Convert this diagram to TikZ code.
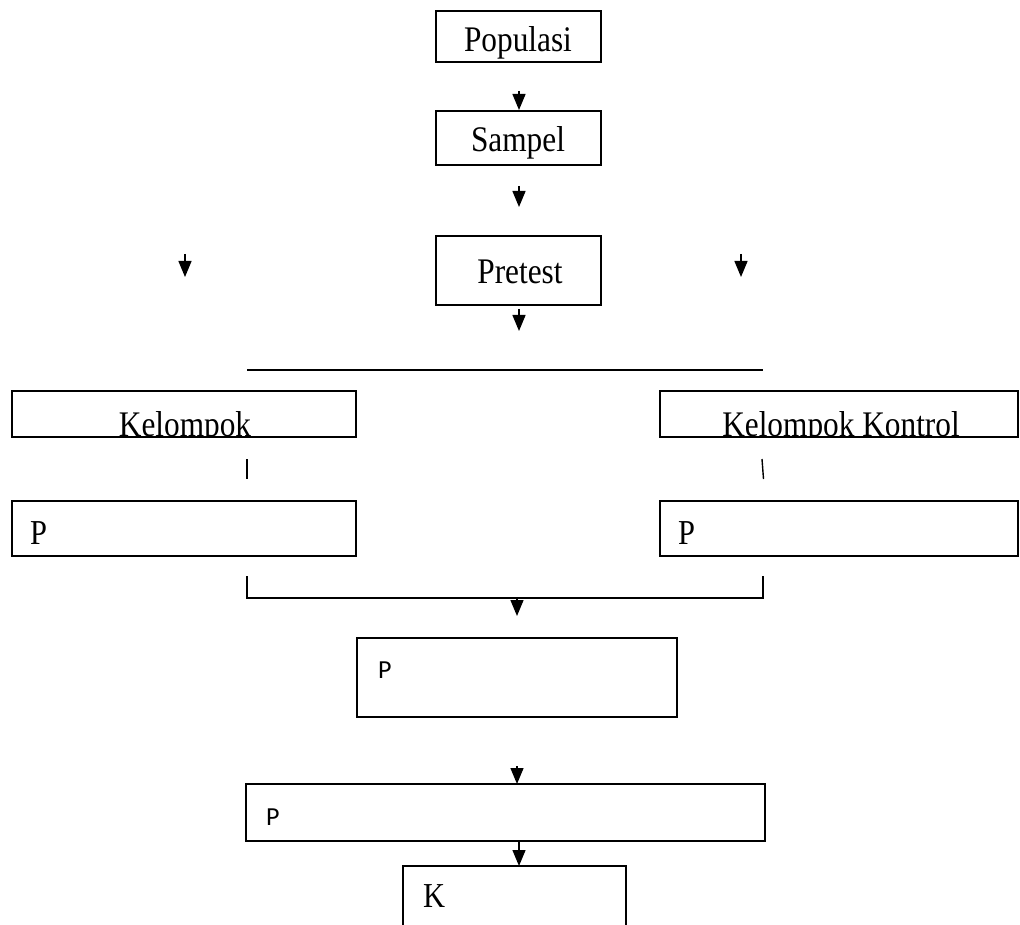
\documentclass[tikz,border=0pt]{standalone}
\usepackage{fontspec}
\setmainfont{Liberation Serif}[FakeStretch=0.87]
\newfontfamily\sansP{Carlito}
\usetikzlibrary{arrows.meta}
\tikzset{
  box/.style={draw, line width=1.4pt},
  arr/.style={line width=1.4pt, -{Triangle[width=13pt,length=16pt]}},
  ln/.style={line width=2pt},
  big/.style={font=\fontsize{36}{40}\selectfont, inner sep=0pt, anchor=base},
  ptxt/.style={font=\fontsize{35}{38}\selectfont, inner sep=0pt, anchor=base west},
  stxt/.style={font=\sansP\fontsize{26}{30}\selectfont, inner sep=0pt, anchor=base west},
}
\begin{document}
\begin{tikzpicture}[x=1pt,y=-1pt]
\useasboundingbox (0,0) rectangle (1020,925);
\clip (0,0) rectangle (1020,925);
% top boxes
\draw[box] (436,11) rectangle (601,62);
\node[big] (pop) at (518,52) {Populasi};
\draw[box] (436,111) rectangle (601,165);
\node[big] (sam) at (518,152) {Sampel};
\draw[box] (436,236) rectangle (601,305);
\node[big] (pre) at (520,284) {Pretest};
% arrows
\coordinate (a1s) at (519,91); \coordinate (a1e) at (519,110);
\draw[arr] (a1s) -- (a1e);
\coordinate (a2s) at (519,186); \coordinate (a2e) at (519,207);
\draw[arr] (a2s) -- (a2e);
\coordinate (a3s) at (185,254); \coordinate (a3e) at (185,277);
\draw[arr] (a3s) -- (a3e);
\coordinate (a4s) at (741,254); \coordinate (a4e) at (741,277);
\draw[arr] (a4s) -- (a4e);
\coordinate (a5s) at (519,309); \coordinate (a5e) at (519,331);
\draw[arr] (a5s) -- (a5e);
% horizontal line
\coordinate (h1) at (247,370); \coordinate (h2) at (763,370);
\draw[ln] (h1) -- (h2);
% group boxes
\begin{scope}
\clip (12,391) rectangle (356,437);
\node[big] (kel) at (185,436) {Kelompok};
\end{scope}
\draw[box] (12,391) rectangle (356,437);
\begin{scope}
\clip (660,391) rectangle (1018,437);
\node[big] (kk) at (841,436) {Kelompok Kontrol};
\end{scope}
\draw[box] (660,391) rectangle (1018,437);
% ticks
\coordinate (t1a) at (247,459); \coordinate (t1b) at (247,479);
\draw[line width=1.4pt] (t1a) -- (t1b);
\coordinate (t2a) at (762,459); \coordinate (t2b) at (763.5,479);
\draw[line width=1.4pt] (t2a) -- (t2b);
% P boxes
\draw[box] (12,501) rectangle (356,556);
\node[ptxt] (pl) at (30,544) {P};
\draw[box] (660,501) rectangle (1018,556);
\node[ptxt] (pr) at (678,544) {P};
% bracket
\coordinate (b1) at (247,576); \coordinate (b2) at (763,576);
\draw[line width=1.6pt] (b1) |- (517,598) -| (b2);
\coordinate (a6s) at (517,598); \coordinate (a6e) at (517,616);
\draw[arr] (a6s) -- (a6e);
% middle P box
\draw[box] (357,638) rectangle (677,717);
\node[stxt] (pm) at (378,678) {P};
\coordinate (a7s) at (517,766); \coordinate (a7e) at (517,784);
\draw[arr] (a7s) -- (a7e);
\draw[box] (246,784) rectangle (765,841);
\node[stxt] (pb) at (266,825) {P};
\coordinate (a8s) at (519,841); \coordinate (a8e) at (519,866);
\draw[arr] (a8s) -- (a8e);
% K box (open bottom)
\draw[box] (403,930) |- (626,866) -- (626,930);
\node[ptxt] (k) at (423,907) {K};
\end{tikzpicture}
\end{document}
